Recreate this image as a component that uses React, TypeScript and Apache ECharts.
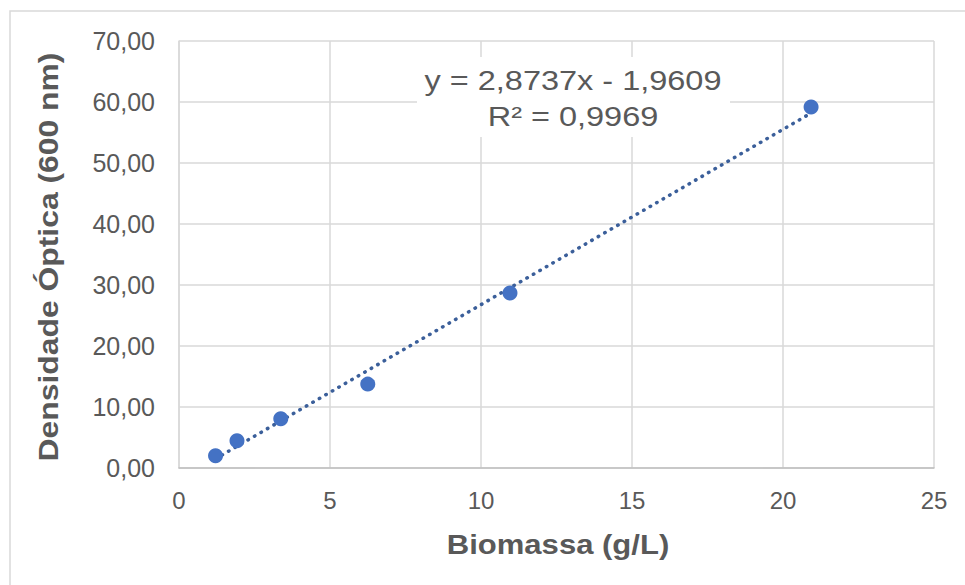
import React, { useEffect, useRef } from "react";
import * as echarts from "echarts";

// Biomass (g/L) vs optical density at 600 nm
const biomassa: number[] = [1.21, 1.92, 3.37, 6.25, 10.96, 20.93];
const densidade: number[] = [2.01, 4.47, 8.07, 13.75, 28.7, 59.19];

// Linear trendline reported on the chart
const slope = 2.8737;
const intercept = -1.9609;
const r2 = 0.9969;

const xTicks = { min: 0, max: 25, interval: 5 };
const yTicks = { min: 0, max: 70, interval: 10 };

const fmt = (v: number, d: number) => v.toFixed(d).replace(".", ",");

export default function App() {
  const ref = useRef<HTMLDivElement>(null);

  useEffect(() => {
    if (!ref.current) return;
    const chart = echarts.init(ref.current, undefined, { renderer: "svg" });

    const xMin = Math.min(...biomassa);
    const xMax = Math.max(...biomassa);
    const trend = [
      [xMin, slope * xMin + intercept],
      [xMax, slope * xMax + intercept],
    ];
    const eqLine1 = `y = ${fmt(slope, 4)}x - ${fmt(Math.abs(intercept), 4)}`;
    const eqLine2 = `R² = ${fmt(r2, 4)}`;

    const grey = "#595959";
    const font = "Arial, 'Liberation Sans', sans-serif";

    chart.setOption({
      animation: false,
      backgroundColor: "#ffffff",
      grid: { left: 179, right: 31, top: 41, bottom: 117, containLabel: false },
      xAxis: {
        type: "value",
        min: xTicks.min,
        max: xTicks.max,
        interval: xTicks.interval,
        axisLine: { show: true, lineStyle: { color: "#bfbfbf", width: 1.5 } },
        axisTick: { show: false },
        axisLabel: { color: grey, fontSize: 24, fontFamily: font, margin: 20 },
        splitLine: { show: true, lineStyle: { color: "#d9d9d9", width: 1.5 } },
      },
      yAxis: {
        type: "value",
        min: yTicks.min,
        max: yTicks.max,
        interval: yTicks.interval,
        axisLine: { show: true, lineStyle: { color: "#d9d9d9", width: 1.5 } },
        axisTick: { show: false },
        axisLabel: {
          color: grey,
          fontSize: 25,
          fontFamily: font,
          margin: 24,
          formatter: (v: number) => fmt(v, 2),
        },
        splitLine: { show: true, lineStyle: { color: "#d9d9d9", width: 1.5 } },
      },
      series: [
        {
          type: "line",
          data: trend,
          showSymbol: false,
          symbol: "none",
          z: 2,
          lineStyle: { color: "#3B5F9A", width: 3.5, type: [0.5, 7], cap: "round" },
          silent: true,
        },
        {
          type: "scatter",
          data: biomassa.map((x, i) => [x, densidade[i]]),
          symbolSize: 15,
          z: 3,
          itemStyle: { color: "#4472C4", opacity: 1 },
        },
      ],
      graphic: [
        {
          type: "rect",
          z: 0,
          silent: true,
          shape: { x: 10, y: 11, width: 980, height: 600 },
          style: { fill: "none", stroke: "#d9d9d9", lineWidth: 1.5 },
        },
        {
          type: "rect",
          z: 100,
          silent: true,
          shape: { x: 417, y: 57, width: 313, height: 80 },
          style: { fill: "#ffffff" },
        },
        {
          type: "text",
          z: 101,
          x: 573,
          y: 80,
          scaleX: 1.16,
          style: {
            text: eqLine1,
            x: 0,
            y: 0,
            font: `28px ${font}`,
            fill: grey,
            align: "center",
            verticalAlign: "middle",
          },
        },
        {
          type: "text",
          z: 101,
          x: 573,
          y: 116,
          scaleX: 1.16,
          style: {
            text: eqLine2,
            x: 0,
            y: 0,
            font: `28px ${font}`,
            fill: grey,
            align: "center",
            verticalAlign: "middle",
          },
        },
        {
          type: "text",
          x: 558,
          y: 545,
          scaleX: 1.15,
          style: {
            text: "Biomassa (g/L)",
            x: 0,
            y: 0,
            font: `bold 27px ${font}`,
            fill: grey,
            align: "center",
            verticalAlign: "middle",
          },
        },
        {
          type: "text",
          x: 48,
          y: 257,
          rotation: Math.PI / 2,
          scaleX: 1.18,
          style: {
            text: "Densidade Óptica (600 nm)",
            x: 0,
            y: 0,
            font: `bold 27px ${font}`,
            fill: grey,
            align: "center",
            verticalAlign: "middle",
          },
        },
      ],
    });

    return () => chart.dispose();
  }, []);

  return (
    <div
      ref={ref}
      style={{ position: "fixed", left: 0, top: 0, width: 965, height: 585 }}
    />
  );
}
